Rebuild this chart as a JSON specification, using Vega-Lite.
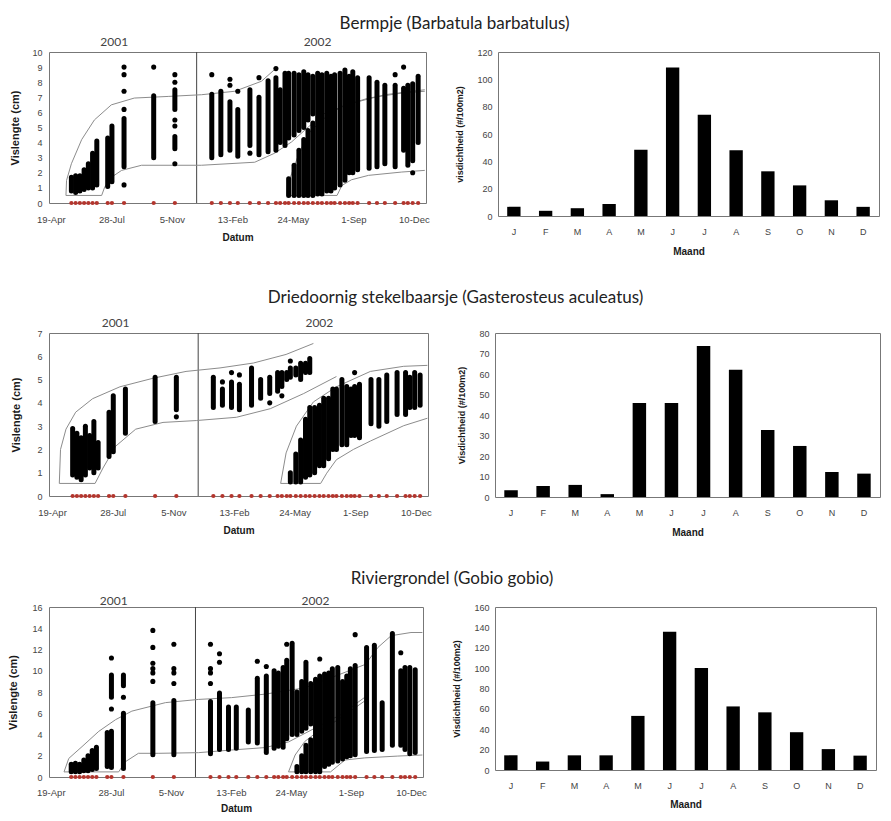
{
  "$schema": "https://vega.github.io/schema/vega-lite/v6.json",
  "background": "white",
  "padding": {"left": 7, "top": 14, "right": 3, "bottom": 0},
  "config": {
    "view": {"stroke": "#777", "strokeWidth": 1},
    "axis": {"labelFont": "Liberation Sans", "titleFont": "Liberation Sans", "labelFontSize": 9, "labelColor": "#444", "titleFontSize": 10, "titleColor": "#1a1a1a", "titleFontWeight": "bold", "grid": false, "domain": false, "ticks": false},
    "title": {"font": "Lato", "fontSize": 17, "fontWeight": "normal", "color": "#222", "anchor": "middle", "dx": 10}
  },
  "datasets": {
    "samples": [
      {"date": "2001-05-23"}, {"date": "2001-05-30"}, {"date": "2001-06-06"}, {"date": "2001-06-13"}, {"date": "2001-06-20"}, {"date": "2001-06-27"}, {"date": "2001-07-04"}, {"date": "2001-07-22"}, {"date": "2001-07-29"}, {"date": "2001-08-18"}, {"date": "2001-10-06"}, {"date": "2001-11-10"},
      {"date": "2002-01-10"}, {"date": "2002-01-25"}, {"date": "2002-02-09"}, {"date": "2002-02-22"}, {"date": "2002-03-14"}, {"date": "2002-03-29"}, {"date": "2002-04-13"}, {"date": "2002-04-26"}, {"date": "2002-05-03"}, {"date": "2002-05-11"}, {"date": "2002-05-17"}, {"date": "2002-05-26"}, {"date": "2002-06-03"}, {"date": "2002-06-11"}, {"date": "2002-06-18"}, {"date": "2002-06-26"}, {"date": "2002-07-04"}, {"date": "2002-07-11"}, {"date": "2002-07-19"}, {"date": "2002-07-26"}, {"date": "2002-08-01"}, {"date": "2002-08-10"}, {"date": "2002-08-18"}, {"date": "2002-08-25"}, {"date": "2002-08-31"}, {"date": "2002-09-08"}, {"date": "2002-09-27"}, {"date": "2002-10-10"}, {"date": "2002-10-23"}, {"date": "2002-11-09"}, {"date": "2002-11-23"}, {"date": "2002-11-30"}, {"date": "2002-12-08"}, {"date": "2002-12-17"}
    ],
    "divider": [{"date": "2001-12-16"}],
    "cols1": [
      {"date": "2001-05-23", "lo": 0.8, "hi": 1.7}, {"date": "2001-05-30", "lo": 0.7, "hi": 1.8}, {"date": "2001-06-06", "lo": 0.8, "hi": 1.8}, {"date": "2001-06-13", "lo": 0.9, "hi": 2.2}, {"date": "2001-06-20", "lo": 1.0, "hi": 2.6}, {"date": "2001-06-27", "lo": 1.0, "hi": 3.3}, {"date": "2001-07-04", "lo": 1.2, "hi": 4.1},
      {"date": "2001-07-22", "lo": 1.1, "hi": 4.3}, {"date": "2001-07-29", "lo": 1.4, "hi": 5.1}, {"date": "2001-08-18", "lo": 2.4, "hi": 5.6}, {"date": "2001-10-06", "lo": 3.0, "hi": 7.1},
      {"date": "2001-11-10", "lo": 3.6, "hi": 4.4}, {"date": "2001-11-10", "lo": 6.2, "hi": 7.5},
      {"date": "2002-01-10", "lo": 3.0, "hi": 7.2}, {"date": "2002-01-25", "lo": 3.2, "hi": 7.4}, {"date": "2002-02-09", "lo": 3.5, "hi": 6.7}, {"date": "2002-02-22", "lo": 3.1, "hi": 6.2}, {"date": "2002-03-14", "lo": 3.8, "hi": 7.5}, {"date": "2002-03-29", "lo": 3.2, "hi": 7.0}, {"date": "2002-04-13", "lo": 3.4, "hi": 8.1}, {"date": "2002-04-26", "lo": 3.5, "hi": 8.3}, {"date": "2002-05-03", "lo": 4.0, "hi": 7.5}, {"date": "2002-05-11", "lo": 3.8, "hi": 8.6},
      {"date": "2002-05-17", "lo": 4.3, "hi": 8.6}, {"date": "2002-05-17", "lo": 0.5, "hi": 1.6},
      {"date": "2002-05-26", "lo": 4.5, "hi": 8.6}, {"date": "2002-05-26", "lo": 0.5, "hi": 2.5},
      {"date": "2002-06-03", "lo": 4.8, "hi": 8.5}, {"date": "2002-06-03", "lo": 0.5, "hi": 3.5},
      {"date": "2002-06-11", "lo": 5.0, "hi": 8.7}, {"date": "2002-06-11", "lo": 0.5, "hi": 4.2},
      {"date": "2002-06-18", "lo": 5.5, "hi": 8.5}, {"date": "2002-06-18", "lo": 0.5, "hi": 4.8},
      {"date": "2002-06-26", "lo": 5.9, "hi": 8.4}, {"date": "2002-06-26", "lo": 0.5, "hi": 5.3},
      {"date": "2002-07-04", "lo": 0.6, "hi": 8.6}, {"date": "2002-07-11", "lo": 0.6, "hi": 8.5}, {"date": "2002-07-19", "lo": 0.8, "hi": 8.6}, {"date": "2002-07-26", "lo": 0.8, "hi": 8.4}, {"date": "2002-08-01", "lo": 1.0, "hi": 8.5}, {"date": "2002-08-10", "lo": 1.2, "hi": 8.6}, {"date": "2002-08-18", "lo": 1.5, "hi": 8.8}, {"date": "2002-08-25", "lo": 2.0, "hi": 8.4}, {"date": "2002-08-31", "lo": 2.0, "hi": 8.7}, {"date": "2002-09-08", "lo": 2.2, "hi": 8.3}, {"date": "2002-09-27", "lo": 2.3, "hi": 8.3}, {"date": "2002-10-10", "lo": 2.4, "hi": 8.0}, {"date": "2002-10-23", "lo": 2.6, "hi": 7.8}, {"date": "2002-11-09", "lo": 2.4, "hi": 7.8}, {"date": "2002-11-23", "lo": 3.5, "hi": 7.6}, {"date": "2002-11-30", "lo": 2.5, "hi": 7.8}, {"date": "2002-12-08", "lo": 2.8, "hi": 7.9}, {"date": "2002-12-17", "lo": 4.0, "hi": 8.4}
    ],
    "pts1": [
      {"date": "2001-08-18", "value": 9.0}, {"date": "2001-08-18", "value": 8.5}, {"date": "2001-08-18", "value": 7.4}, {"date": "2001-08-18", "value": 6.2}, {"date": "2001-08-18", "value": 1.2},
      {"date": "2001-10-06", "value": 9.0},
      {"date": "2001-11-10", "value": 8.5}, {"date": "2001-11-10", "value": 8.0}, {"date": "2001-11-10", "value": 5.5}, {"date": "2001-11-10", "value": 5.1}, {"date": "2001-11-10", "value": 2.6},
      {"date": "2002-01-10", "value": 8.5}, {"date": "2002-02-09", "value": 8.2}, {"date": "2002-02-09", "value": 7.8}, {"date": "2002-02-22", "value": 7.4}, {"date": "2002-03-14", "value": 3.3}, {"date": "2002-03-29", "value": 8.3}, {"date": "2002-04-26", "value": 8.9}, {"date": "2002-11-09", "value": 8.5}, {"date": "2002-11-23", "value": 9.0}, {"date": "2002-12-08", "value": 2.0}
    ],
    "curves1": [
      {"curve": "C1u", "date": "2001-05-14", "value": 0.5}, {"curve": "C1u", "date": "2001-05-15", "value": 1.5}, {"curve": "C1u", "date": "2001-05-23", "value": 2.6}, {"curve": "C1u", "date": "2001-06-09", "value": 4.2}, {"curve": "C1u", "date": "2001-06-30", "value": 5.5}, {"curve": "C1u", "date": "2001-07-28", "value": 6.5}, {"curve": "C1u", "date": "2001-09-04", "value": 6.95}, {"curve": "C1u", "date": "2001-10-31", "value": 7.06}, {"curve": "C1u", "date": "2001-12-24", "value": 7.17}, {"curve": "C1u", "date": "2002-02-17", "value": 7.4}, {"curve": "C1u", "date": "2002-04-02", "value": 8.06}, {"curve": "C1u", "date": "2002-04-27", "value": 8.95},
      {"curve": "C1b", "date": "2001-05-14", "value": 0.5}, {"curve": "C1b", "date": "2001-07-12", "value": 0.5},
      {"curve": "C1l", "date": "2001-07-12", "value": 0.5}, {"curve": "C1l", "date": "2001-07-17", "value": 1.05}, {"curve": "C1l", "date": "2001-07-28", "value": 1.7}, {"curve": "C1l", "date": "2001-08-14", "value": 2.16}, {"curve": "C1l", "date": "2001-09-16", "value": 2.5}, {"curve": "C1l", "date": "2001-12-24", "value": 2.5}, {"curve": "C1l", "date": "2002-03-22", "value": 2.7}, {"curve": "C1l", "date": "2002-04-24", "value": 3.3}, {"curve": "C1l", "date": "2002-05-22", "value": 4.05}, {"curve": "C1l", "date": "2002-06-19", "value": 5.05}, {"curve": "C1l", "date": "2002-07-16", "value": 5.95}, {"curve": "C1l", "date": "2002-08-29", "value": 6.6}, {"curve": "C1l", "date": "2002-10-23", "value": 7.17}, {"curve": "C1l", "date": "2002-12-28", "value": 7.5},
      {"curve": "C2u", "date": "2002-05-14", "value": 0.5}, {"curve": "C2u", "date": "2002-05-15", "value": 1.2}, {"curve": "C2u", "date": "2002-05-22", "value": 1.94}, {"curve": "C2u", "date": "2002-06-03", "value": 3.27}, {"curve": "C2u", "date": "2002-06-19", "value": 4.6}, {"curve": "C2u", "date": "2002-07-11", "value": 5.5}, {"curve": "C2u", "date": "2002-08-13", "value": 6.4}, {"curve": "C2u", "date": "2002-09-26", "value": 6.95}, {"curve": "C2u", "date": "2002-11-20", "value": 7.28}, {"curve": "C2u", "date": "2002-12-28", "value": 7.4},
      {"curve": "C2b", "date": "2002-05-14", "value": 0.5}, {"curve": "C2b", "date": "2002-08-05", "value": 0.5},
      {"curve": "C2l", "date": "2002-08-05", "value": 0.5}, {"curve": "C2l", "date": "2002-08-13", "value": 1.16}, {"curve": "C2l", "date": "2002-08-29", "value": 1.54}, {"curve": "C2l", "date": "2002-09-26", "value": 1.83}, {"curve": "C2l", "date": "2002-11-20", "value": 2.05}, {"curve": "C2l", "date": "2002-12-28", "value": 2.16}
    ],
    "cols2": [
      {"date": "2001-05-23", "lo": 0.9, "hi": 2.9}, {"date": "2001-05-30", "lo": 0.8, "hi": 2.7}, {"date": "2001-06-06", "lo": 0.7, "hi": 2.5}, {"date": "2001-06-13", "lo": 0.9, "hi": 3.0}, {"date": "2001-06-20", "lo": 1.2, "hi": 2.6}, {"date": "2001-06-27", "lo": 1.0, "hi": 3.2}, {"date": "2001-07-04", "lo": 1.2, "hi": 2.3},
      {"date": "2001-07-22", "lo": 1.7, "hi": 3.6}, {"date": "2001-07-29", "lo": 1.9, "hi": 4.3}, {"date": "2001-08-18", "lo": 2.7, "hi": 4.6}, {"date": "2001-10-06", "lo": 3.2, "hi": 5.1}, {"date": "2001-11-10", "lo": 3.7, "hi": 5.1},
      {"date": "2002-01-10", "lo": 3.8, "hi": 5.1}, {"date": "2002-01-25", "lo": 3.9, "hi": 4.6}, {"date": "2002-02-09", "lo": 3.8, "hi": 4.9}, {"date": "2002-02-22", "lo": 3.7, "hi": 4.8}, {"date": "2002-03-14", "lo": 3.9, "hi": 5.5}, {"date": "2002-03-29", "lo": 4.2, "hi": 5.0}, {"date": "2002-04-13", "lo": 4.4, "hi": 5.1}, {"date": "2002-04-26", "lo": 4.5, "hi": 5.3}, {"date": "2002-05-03", "lo": 4.7, "hi": 5.3}, {"date": "2002-05-11", "lo": 5.0, "hi": 5.3},
      {"date": "2002-05-17", "lo": 5.1, "hi": 5.5}, {"date": "2002-05-17", "lo": 0.6, "hi": 1.0},
      {"date": "2002-05-26", "lo": 5.2, "hi": 5.5}, {"date": "2002-05-26", "lo": 0.6, "hi": 1.8},
      {"date": "2002-06-03", "lo": 5.0, "hi": 5.7}, {"date": "2002-06-03", "lo": 0.6, "hi": 2.4},
      {"date": "2002-06-11", "lo": 5.3, "hi": 5.7}, {"date": "2002-06-11", "lo": 0.8, "hi": 3.3},
      {"date": "2002-06-18", "lo": 5.3, "hi": 5.9}, {"date": "2002-06-18", "lo": 0.9, "hi": 3.8},
      {"date": "2002-06-26", "lo": 1.0, "hi": 3.8}, {"date": "2002-07-04", "lo": 1.3, "hi": 3.9}, {"date": "2002-07-11", "lo": 1.3, "hi": 4.2}, {"date": "2002-07-19", "lo": 1.6, "hi": 4.2}, {"date": "2002-07-26", "lo": 2.0, "hi": 4.6}, {"date": "2002-08-01", "lo": 2.0, "hi": 4.6}, {"date": "2002-08-10", "lo": 2.2, "hi": 5.0}, {"date": "2002-08-18", "lo": 2.2, "hi": 4.7}, {"date": "2002-08-25", "lo": 2.6, "hi": 4.6}, {"date": "2002-08-31", "lo": 2.6, "hi": 4.7}, {"date": "2002-09-08", "lo": 2.5, "hi": 4.8}, {"date": "2002-09-27", "lo": 3.1, "hi": 5.0}, {"date": "2002-10-10", "lo": 3.0, "hi": 5.0}, {"date": "2002-10-23", "lo": 3.2, "hi": 5.2}, {"date": "2002-11-09", "lo": 3.5, "hi": 5.3}, {"date": "2002-11-23", "lo": 3.5, "hi": 5.3}, {"date": "2002-11-30", "lo": 3.8, "hi": 5.1}, {"date": "2002-12-08", "lo": 3.8, "hi": 5.3}, {"date": "2002-12-17", "lo": 3.9, "hi": 5.2}
    ],
    "pts2": [
      {"date": "2001-11-10", "value": 3.4}, {"date": "2002-01-25", "value": 4.9}, {"date": "2002-02-09", "value": 5.3}, {"date": "2002-02-22", "value": 5.2}, {"date": "2002-04-13", "value": 4.0}, {"date": "2002-05-03", "value": 4.3}, {"date": "2002-05-17", "value": 5.8}, {"date": "2002-08-31", "value": 5.3}
    ],
    "curves2": [
      {"curve": "C1u", "date": "2001-05-01", "value": 0.54}, {"curve": "C1u", "date": "2001-05-03", "value": 2.0}, {"curve": "C1u", "date": "2001-05-12", "value": 2.87}, {"curve": "C1u", "date": "2001-05-28", "value": 3.6}, {"curve": "C1u", "date": "2001-06-25", "value": 4.18}, {"curve": "C1u", "date": "2001-08-09", "value": 4.69}, {"curve": "C1u", "date": "2001-10-03", "value": 5.06}, {"curve": "C1u", "date": "2001-11-26", "value": 5.35}, {"curve": "C1u", "date": "2002-01-21", "value": 5.5}, {"curve": "C1u", "date": "2002-03-17", "value": 5.71}, {"curve": "C1u", "date": "2002-05-10", "value": 6.08}, {"curve": "C1u", "date": "2002-06-24", "value": 6.55},
      {"curve": "C1b", "date": "2001-05-01", "value": 0.54}, {"curve": "C1b", "date": "2001-06-29", "value": 0.54},
      {"curve": "C1l", "date": "2001-06-29", "value": 0.54}, {"curve": "C1l", "date": "2001-07-12", "value": 1.2}, {"curve": "C1l", "date": "2001-08-02", "value": 2.14}, {"curve": "C1l", "date": "2001-09-04", "value": 2.87}, {"curve": "C1l", "date": "2001-10-19", "value": 3.16}, {"curve": "C1l", "date": "2001-12-13", "value": 3.24}, {"curve": "C1l", "date": "2002-02-17", "value": 3.38}, {"curve": "C1l", "date": "2002-04-14", "value": 3.75}, {"curve": "C1l", "date": "2002-06-08", "value": 4.4}, {"curve": "C1l", "date": "2002-08-01", "value": 5.13},
      {"curve": "C2u", "date": "2002-05-01", "value": 0.54}, {"curve": "C2u", "date": "2002-05-10", "value": 1.85}, {"curve": "C2u", "date": "2002-05-27", "value": 3.0}, {"curve": "C2u", "date": "2002-06-24", "value": 4.04}, {"curve": "C2u", "date": "2002-08-01", "value": 4.69}, {"curve": "C2u", "date": "2002-09-26", "value": 5.35}, {"curve": "C2u", "date": "2002-11-20", "value": 5.57}, {"curve": "C2u", "date": "2002-12-29", "value": 5.61},
      {"curve": "C2b", "date": "2002-05-01", "value": 0.54}, {"curve": "C2b", "date": "2002-07-06", "value": 0.54},
      {"curve": "C2l", "date": "2002-07-06", "value": 0.54}, {"curve": "C2l", "date": "2002-07-16", "value": 0.98}, {"curve": "C2l", "date": "2002-08-01", "value": 1.56}, {"curve": "C2l", "date": "2002-08-29", "value": 2.0}, {"curve": "C2l", "date": "2002-09-26", "value": 2.36}, {"curve": "C2l", "date": "2002-11-20", "value": 3.02}, {"curve": "C2l", "date": "2002-12-29", "value": 3.34}
    ],
    "cols3": [
      {"date": "2001-05-23", "lo": 0.5, "hi": 1.2}, {"date": "2001-05-30", "lo": 0.5, "hi": 1.3}, {"date": "2001-06-06", "lo": 0.5, "hi": 1.2}, {"date": "2001-06-13", "lo": 0.6, "hi": 1.6}, {"date": "2001-06-20", "lo": 0.6, "hi": 2.0}, {"date": "2001-06-27", "lo": 0.7, "hi": 2.5}, {"date": "2001-07-04", "lo": 0.8, "hi": 2.8},
      {"date": "2001-07-22", "lo": 1.0, "hi": 4.2}, {"date": "2001-07-29", "lo": 0.9, "hi": 4.3}, {"date": "2001-07-29", "lo": 7.5, "hi": 9.6},
      {"date": "2001-08-18", "lo": 0.8, "hi": 6.0}, {"date": "2001-08-18", "lo": 8.6, "hi": 9.6},
      {"date": "2001-10-06", "lo": 2.1, "hi": 7.0}, {"date": "2001-11-10", "lo": 2.1, "hi": 7.2},
      {"date": "2002-01-10", "lo": 2.2, "hi": 7.1}, {"date": "2002-01-25", "lo": 2.6, "hi": 7.9}, {"date": "2002-02-09", "lo": 2.6, "hi": 6.6}, {"date": "2002-02-22", "lo": 2.7, "hi": 6.6}, {"date": "2002-03-14", "lo": 3.3, "hi": 6.3}, {"date": "2002-03-29", "lo": 3.2, "hi": 9.3}, {"date": "2002-04-13", "lo": 2.3, "hi": 9.5}, {"date": "2002-04-26", "lo": 2.7, "hi": 10.0}, {"date": "2002-05-03", "lo": 2.9, "hi": 9.8}, {"date": "2002-05-11", "lo": 2.8, "hi": 10.3}, {"date": "2002-05-17", "lo": 3.6, "hi": 11.0}, {"date": "2002-05-26", "lo": 4.0, "hi": 12.6},
      {"date": "2002-06-03", "lo": 4.0, "hi": 8.0}, {"date": "2002-06-03", "lo": 0.5, "hi": 1.0},
      {"date": "2002-06-11", "lo": 4.3, "hi": 9.0}, {"date": "2002-06-11", "lo": 0.5, "hi": 2.0},
      {"date": "2002-06-18", "lo": 4.6, "hi": 10.8}, {"date": "2002-06-18", "lo": 0.5, "hi": 3.0},
      {"date": "2002-06-26", "lo": 5.0, "hi": 8.8}, {"date": "2002-06-26", "lo": 0.5, "hi": 3.5},
      {"date": "2002-07-04", "lo": 0.5, "hi": 9.2}, {"date": "2002-07-11", "lo": 0.5, "hi": 9.5}, {"date": "2002-07-19", "lo": 1.0, "hi": 9.7}, {"date": "2002-07-26", "lo": 1.2, "hi": 9.8}, {"date": "2002-08-01", "lo": 1.4, "hi": 10.2}, {"date": "2002-08-10", "lo": 1.5, "hi": 10.3}, {"date": "2002-08-18", "lo": 1.7, "hi": 9.0}, {"date": "2002-08-25", "lo": 1.9, "hi": 9.5}, {"date": "2002-08-31", "lo": 2.0, "hi": 10.2}, {"date": "2002-09-08", "lo": 2.1, "hi": 10.5}, {"date": "2002-09-27", "lo": 2.4, "hi": 12.2}, {"date": "2002-10-10", "lo": 2.5, "hi": 12.4}, {"date": "2002-10-23", "lo": 2.6, "hi": 7.0}, {"date": "2002-11-09", "lo": 3.0, "hi": 13.5}, {"date": "2002-11-23", "lo": 3.0, "hi": 10.0}, {"date": "2002-11-30", "lo": 2.6, "hi": 10.3}, {"date": "2002-12-08", "lo": 2.2, "hi": 10.3}, {"date": "2002-12-17", "lo": 2.3, "hi": 10.1}
    ],
    "pts3": [
      {"date": "2001-07-29", "value": 11.2}, {"date": "2001-07-29", "value": 6.4}, {"date": "2001-08-18", "value": 7.5},
      {"date": "2001-10-06", "value": 13.8}, {"date": "2001-10-06", "value": 12.2}, {"date": "2001-10-06", "value": 10.7}, {"date": "2001-10-06", "value": 10.2}, {"date": "2001-10-06", "value": 9.8}, {"date": "2001-10-06", "value": 9.0},
      {"date": "2001-11-10", "value": 12.5}, {"date": "2001-11-10", "value": 10.2}, {"date": "2001-11-10", "value": 9.8}, {"date": "2001-11-10", "value": 8.8},
      {"date": "2002-01-10", "value": 12.5}, {"date": "2002-01-10", "value": 10.2}, {"date": "2002-01-10", "value": 9.8}, {"date": "2002-01-10", "value": 8.8},
      {"date": "2002-01-25", "value": 11.6}, {"date": "2002-01-25", "value": 10.8}, {"date": "2002-03-29", "value": 10.9}, {"date": "2002-04-13", "value": 10.4}, {"date": "2002-05-17", "value": 12.5}, {"date": "2002-07-11", "value": 11.1}, {"date": "2002-09-08", "value": 13.4}, {"date": "2002-11-23", "value": 11.7}
    ],
    "curves3": [
      {"curve": "C1u", "date": "2001-05-11", "value": 0.48}, {"curve": "C1u", "date": "2001-05-19", "value": 1.75}, {"curve": "C1u", "date": "2001-06-10", "value": 2.86}, {"curve": "C1u", "date": "2001-07-08", "value": 4.3}, {"curve": "C1u", "date": "2001-08-05", "value": 5.4}, {"curve": "C1u", "date": "2001-09-01", "value": 6.2}, {"curve": "C1u", "date": "2001-10-27", "value": 7.0}, {"curve": "C1u", "date": "2001-12-21", "value": 7.3}, {"curve": "C1u", "date": "2002-02-14", "value": 7.47}, {"curve": "C1u", "date": "2002-04-11", "value": 7.8}, {"curve": "C1u", "date": "2002-06-17", "value": 8.4}, {"curve": "C1u", "date": "2002-08-06", "value": 9.5}, {"curve": "C1u", "date": "2002-09-25", "value": 10.6}, {"curve": "C1u", "date": "2002-10-16", "value": 12.2}, {"curve": "C1u", "date": "2002-11-07", "value": 13.3}, {"curve": "C1u", "date": "2002-12-10", "value": 13.6}, {"curve": "C1u", "date": "2002-12-29", "value": 13.6},
      {"curve": "C1b", "date": "2001-05-11", "value": 0.48}, {"curve": "C1b", "date": "2001-08-10", "value": 0.48},
      {"curve": "C1l", "date": "2001-08-10", "value": 0.48}, {"curve": "C1l", "date": "2001-08-21", "value": 1.43}, {"curve": "C1l", "date": "2001-09-12", "value": 2.23}, {"curve": "C1l", "date": "2001-10-16", "value": 2.23}, {"curve": "C1l", "date": "2001-12-21", "value": 2.29}, {"curve": "C1l", "date": "2002-02-14", "value": 2.54}, {"curve": "C1l", "date": "2002-04-11", "value": 2.77}, {"curve": "C1l", "date": "2002-05-20", "value": 3.3}, {"curve": "C1l", "date": "2002-07-03", "value": 4.6}, {"curve": "C1l", "date": "2002-08-16", "value": 5.9}, {"curve": "C1l", "date": "2002-09-24", "value": 7.5},
      {"curve": "C2u", "date": "2002-05-20", "value": 0.48}, {"curve": "C2u", "date": "2002-05-31", "value": 2.07}, {"curve": "C2u", "date": "2002-06-16", "value": 3.34}, {"curve": "C2u", "date": "2002-07-08", "value": 4.3}, {"curve": "C2u", "date": "2002-07-29", "value": 4.93}, {"curve": "C2u", "date": "2002-08-27", "value": 6.04}, {"curve": "C2u", "date": "2002-09-24", "value": 7.16},
      {"curve": "C2b", "date": "2002-05-20", "value": 0.48}, {"curve": "C2b", "date": "2002-07-29", "value": 0.48},
      {"curve": "C2l", "date": "2002-07-29", "value": 0.48}, {"curve": "C2l", "date": "2002-08-22", "value": 1.6}, {"curve": "C2l", "date": "2002-09-24", "value": 1.8}, {"curve": "C2l", "date": "2002-11-18", "value": 1.97}, {"curve": "C2l", "date": "2002-12-29", "value": 2.07}
    ],
    "bars1": [
      {"month": "Jan", "value": 6.7}, {"month": "Feb", "value": 3.8}, {"month": "Mar", "value": 5.7}, {"month": "Apr", "value": 8.8}, {"month": "May", "value": 48.4}, {"month": "Jun", "value": 108.6}, {"month": "Jul", "value": 74}, {"month": "Aug", "value": 48.2}, {"month": "Sep", "value": 32.7}, {"month": "Oct", "value": 22.4}, {"month": "Nov", "value": 11.5}, {"month": "Dec", "value": 6.7}
    ],
    "bars2": [
      {"month": "Jan", "value": 3.3}, {"month": "Feb", "value": 5.4}, {"month": "Mar", "value": 5.9}, {"month": "Apr", "value": 1.4}, {"month": "May", "value": 45.9}, {"month": "Jun", "value": 45.9}, {"month": "Jul", "value": 73.7}, {"month": "Aug", "value": 62.1}, {"month": "Sep", "value": 32.7}, {"month": "Oct", "value": 24.9}, {"month": "Nov", "value": 12.2}, {"month": "Dec", "value": 11.4}
    ],
    "bars3": [
      {"month": "Jan", "value": 14.4}, {"month": "Feb", "value": 8.3}, {"month": "Mar", "value": 14.4}, {"month": "Apr", "value": 14.4}, {"month": "May", "value": 53.1}, {"month": "Jun", "value": 135.7}, {"month": "Jul", "value": 100.2}, {"month": "Aug", "value": 62.4}, {"month": "Sep", "value": 56.6}, {"month": "Oct", "value": 37.1}, {"month": "Nov", "value": 20.5}, {"month": "Dec", "value": 14.1}
    ]
  },
  "spacing": 31,
  "vconcat": [
    {
      "title": {"text": "Bermpje (Barbatula barbatulus)", "offset": 2},
      "spacing": 25,
      "hconcat": [
        {
          "width": 377, "height": 151,
          "resolve": {"axis": {"x": "independent"}},
          "layer": [
            {"data": {"name": "divider"}, "mark": {"type": "rule", "color": "#444", "strokeWidth": 1},
             "encoding": {"x": {"field": "date", "type": "temporal", "scale": {"type": "utc", "domain": [{"year": 2001, "month": 4, "date": 16, "utc": true}, {"year": 2002, "month": 12, "date": 30, "utc": true}]},
               "axis": {"orient": "top", "values": [{"year": 2001, "month": 8, "date": 1, "utc": true}, {"year": 2002, "month": 7, "date": 3, "utc": true}], "labelExpr": "utcFormat(datum.value, '%Y')", "labelPadding": 4, "labelFont": "Lato", "labelFontSize": 12, "labelColor": "#444", "title": null}}}},
            {"data": {"name": "curves1"}, "mark": {"type": "line", "color": "#8c8c8c", "strokeWidth": 1},
             "encoding": {"x": {"field": "date", "type": "temporal", "axis": null}, "y": {"field": "value", "type": "quantitative", "scale": {"domain": [0, 10], "nice": false}, "axis": {"title": "Vislengte (cm)", "values": [0, 1, 2, 3, 4, 5, 6, 7, 8, 9, 10], "labelPadding": 7, "titleFontSize": 11, "titlePadding": 11}}, "detail": {"field": "curve"}}},
            {"data": {"name": "cols1"}, "mark": {"type": "rule", "color": "black", "strokeWidth": 5, "strokeCap": "round"},
             "encoding": {"x": {"field": "date", "type": "temporal", "axis": {"orient": "bottom", "values": [{"year": 2001, "month": 4, "date": 19, "utc": true}, {"year": 2001, "month": 7, "date": 28, "utc": true}, {"year": 2001, "month": 11, "date": 5, "utc": true}, {"year": 2002, "month": 2, "date": 13, "utc": true}, {"year": 2002, "month": 5, "date": 24, "utc": true}, {"year": 2002, "month": 9, "date": 1, "utc": true}, {"year": 2002, "month": 12, "date": 10, "utc": true}], "labelExpr": "utcFormat(datum.value, '%-d-%b')", "labelPadding": 11, "labelFontSize": 9.5, "labelOverlap": false, "title": "Datum", "titlePadding": 9}},
               "y": {"field": "lo", "type": "quantitative", "axis": {"title": "Vislengte (cm)", "values": [0, 1, 2, 3, 4, 5, 6, 7, 8, 9, 10], "labelPadding": 7, "titleFontSize": 11, "titlePadding": 11}}, "y2": {"field": "hi"}}},
            {"data": {"name": "pts1"}, "mark": {"type": "point", "filled": true, "color": "black", "size": 26, "opacity": 1},
             "encoding": {"x": {"field": "date", "type": "temporal", "axis": null}, "y": {"field": "value", "type": "quantitative", "axis": {"title": "Vislengte (cm)", "values": [0, 1, 2, 3, 4, 5, 6, 7, 8, 9, 10], "labelPadding": 7, "titleFontSize": 11, "titlePadding": 11}}}},
            {"data": {"name": "samples"}, "mark": {"type": "point", "filled": true, "color": "#b3352d", "size": 18, "opacity": 1},
             "encoding": {"x": {"field": "date", "type": "temporal", "axis": null}, "y": {"datum": 0, "type": "quantitative", "axis": {"title": "Vislengte (cm)", "values": [0, 1, 2, 3, 4, 5, 6, 7, 8, 9, 10], "labelPadding": 7, "titleFontSize": 11, "titlePadding": 11}}}}
          ]
        },
        {
          "width": 381, "height": 164,
          "data": {"name": "bars1"},
          "mark": {"type": "bar", "color": "black"},
          "encoding": {
            "x": {"field": "month", "type": "nominal", "sort": null, "scale": {"paddingInner": 0.58, "paddingOuter": 0.29}, "axis": {"labelAngle": 0, "labelExpr": "substring(datum.label, 0, 1)", "labelPadding": 11, "title": "Maand", "titlePadding": 10}},
            "y": {"field": "value", "type": "quantitative", "scale": {"domain": [0, 120], "nice": false}, "axis": {"values": [0, 20, 40, 60, 80, 100, 120], "title": "visdichtheid (#/100m2)", "titleFontSize": 9, "labelPadding": 6, "titlePadding": 12}}
          }
        }
      ]
    },
    {
      "title": {"text": "Driedoornig stekelbaarsje (Gasterosteus aculeatus)", "offset": 9},
      "spacing": 25,
      "hconcat": [
        {
          "width": 379, "height": 163,
          "resolve": {"axis": {"x": "independent"}},
          "layer": [
            {"data": {"name": "divider"}, "mark": {"type": "rule", "color": "#444", "strokeWidth": 1},
             "encoding": {"x": {"field": "date", "type": "temporal", "scale": {"type": "utc", "domain": [{"year": 2001, "month": 4, "date": 14, "utc": true}, {"year": 2002, "month": 12, "date": 30, "utc": true}]},
               "axis": {"orient": "top", "values": [{"year": 2001, "month": 8, "date": 1, "utc": true}, {"year": 2002, "month": 7, "date": 3, "utc": true}], "labelExpr": "utcFormat(datum.value, '%Y')", "labelPadding": 4, "labelFont": "Lato", "labelFontSize": 12, "labelColor": "#444", "title": null}}}},
            {"data": {"name": "curves2"}, "mark": {"type": "line", "color": "#8c8c8c", "strokeWidth": 1},
             "encoding": {"x": {"field": "date", "type": "temporal", "axis": null}, "y": {"field": "value", "type": "quantitative", "scale": {"domain": [0, 7], "nice": false}, "axis": {"title": "Vislengte (cm)", "values": [0, 1, 2, 3, 4, 5, 6, 7], "labelPadding": 7, "titleFontSize": 11, "titlePadding": 15}}, "detail": {"field": "curve"}}},
            {"data": {"name": "cols2"}, "mark": {"type": "rule", "color": "black", "strokeWidth": 5, "strokeCap": "round"},
             "encoding": {"x": {"field": "date", "type": "temporal", "axis": {"orient": "bottom", "values": [{"year": 2001, "month": 4, "date": 19, "utc": true}, {"year": 2001, "month": 7, "date": 28, "utc": true}, {"year": 2001, "month": 11, "date": 5, "utc": true}, {"year": 2002, "month": 2, "date": 13, "utc": true}, {"year": 2002, "month": 5, "date": 24, "utc": true}, {"year": 2002, "month": 9, "date": 1, "utc": true}, {"year": 2002, "month": 12, "date": 10, "utc": true}], "labelExpr": "utcFormat(datum.value, '%-d-%b')", "labelPadding": 11, "labelFontSize": 9.5, "labelOverlap": false, "title": "Datum", "titlePadding": 9}},
               "y": {"field": "lo", "type": "quantitative", "axis": {"title": "Vislengte (cm)", "values": [0, 1, 2, 3, 4, 5, 6, 7], "labelPadding": 7, "titleFontSize": 11, "titlePadding": 15}}, "y2": {"field": "hi"}}},
            {"data": {"name": "pts2"}, "mark": {"type": "point", "filled": true, "color": "black", "size": 26, "opacity": 1},
             "encoding": {"x": {"field": "date", "type": "temporal", "axis": null}, "y": {"field": "value", "type": "quantitative", "axis": {"title": "Vislengte (cm)", "values": [0, 1, 2, 3, 4, 5, 6, 7], "labelPadding": 7, "titleFontSize": 11, "titlePadding": 15}}}},
            {"data": {"name": "samples"}, "mark": {"type": "point", "filled": true, "color": "#b3352d", "size": 18, "opacity": 1},
             "encoding": {"x": {"field": "date", "type": "temporal", "axis": null}, "y": {"datum": 0, "type": "quantitative", "axis": {"title": "Vislengte (cm)", "values": [0, 1, 2, 3, 4, 5, 6, 7], "labelPadding": 7, "titleFontSize": 11, "titlePadding": 15}}}}
          ]
        },
        {
          "width": 385, "height": 164,
          "data": {"name": "bars2"},
          "mark": {"type": "bar", "color": "black"},
          "encoding": {
            "x": {"field": "month", "type": "nominal", "sort": null, "scale": {"paddingInner": 0.58, "paddingOuter": 0.29}, "axis": {"labelAngle": 0, "labelExpr": "substring(datum.label, 0, 1)", "labelPadding": 11, "title": "Maand", "titlePadding": 10}},
            "y": {"field": "value", "type": "quantitative", "scale": {"domain": [0, 80], "nice": false}, "axis": {"values": [0, 10, 20, 30, 40, 50, 60, 70, 80], "title": "Visdichtheid (#/100m2)", "titleFontSize": 9, "labelPadding": 6, "titlePadding": 12}}
          }
        }
      ]
    },
    {
      "title": {"text": "Riviergrondel (Gobio gobio)", "offset": 6},
      "spacing": 25,
      "hconcat": [
        {
          "width": 374, "height": 170,
          "resolve": {"axis": {"x": "independent"}},
          "layer": [
            {"data": {"name": "divider"}, "mark": {"type": "rule", "color": "#444", "strokeWidth": 1},
             "encoding": {"x": {"field": "date", "type": "temporal", "scale": {"type": "utc", "domain": [{"year": 2001, "month": 4, "date": 16, "utc": true}, {"year": 2002, "month": 12, "date": 30, "utc": true}]},
               "axis": {"orient": "top", "values": [{"year": 2001, "month": 8, "date": 1, "utc": true}, {"year": 2002, "month": 7, "date": 3, "utc": true}], "labelExpr": "utcFormat(datum.value, '%Y')", "labelPadding": 0, "labelFont": "Lato", "labelFontSize": 12, "labelColor": "#444", "title": null}}}},
            {"data": {"name": "curves3"}, "mark": {"type": "line", "color": "#8c8c8c", "strokeWidth": 1},
             "encoding": {"x": {"field": "date", "type": "temporal", "axis": null}, "y": {"field": "value", "type": "quantitative", "scale": {"domain": [0, 16], "nice": false}, "axis": {"title": "Vislengte (cm)", "values": [0, 2, 4, 6, 8, 10, 12, 14, 16], "labelPadding": 7, "titleFontSize": 11, "titlePadding": 13}}, "detail": {"field": "curve"}}},
            {"data": {"name": "cols3"}, "mark": {"type": "rule", "color": "black", "strokeWidth": 5, "strokeCap": "round"},
             "encoding": {"x": {"field": "date", "type": "temporal", "axis": {"orient": "bottom", "values": [{"year": 2001, "month": 4, "date": 19, "utc": true}, {"year": 2001, "month": 7, "date": 28, "utc": true}, {"year": 2001, "month": 11, "date": 5, "utc": true}, {"year": 2002, "month": 2, "date": 13, "utc": true}, {"year": 2002, "month": 5, "date": 24, "utc": true}, {"year": 2002, "month": 9, "date": 1, "utc": true}, {"year": 2002, "month": 12, "date": 10, "utc": true}], "labelExpr": "utcFormat(datum.value, '%-d-%b')", "labelPadding": 10, "labelFontSize": 9.5, "labelOverlap": false, "title": "Datum", "titlePadding": 7}},
               "y": {"field": "lo", "type": "quantitative", "axis": {"title": "Vislengte (cm)", "values": [0, 2, 4, 6, 8, 10, 12, 14, 16], "labelPadding": 7, "titleFontSize": 11, "titlePadding": 13}}, "y2": {"field": "hi"}}},
            {"data": {"name": "pts3"}, "mark": {"type": "point", "filled": true, "color": "black", "size": 26, "opacity": 1},
             "encoding": {"x": {"field": "date", "type": "temporal", "axis": null}, "y": {"field": "value", "type": "quantitative", "axis": {"title": "Vislengte (cm)", "values": [0, 2, 4, 6, 8, 10, 12, 14, 16], "labelPadding": 7, "titleFontSize": 11, "titlePadding": 13}}}},
            {"data": {"name": "samples"}, "mark": {"type": "point", "filled": true, "color": "#b3352d", "size": 18, "opacity": 1},
             "encoding": {"x": {"field": "date", "type": "temporal", "axis": null}, "y": {"datum": 0, "type": "quantitative", "axis": {"title": "Vislengte (cm)", "values": [0, 2, 4, 6, 8, 10, 12, 14, 16], "labelPadding": 7, "titleFontSize": 11, "titlePadding": 13}}}}
          ]
        },
        {
          "width": 381, "height": 163,
          "data": {"name": "bars3"},
          "mark": {"type": "bar", "color": "black"},
          "encoding": {
            "x": {"field": "month", "type": "nominal", "sort": null, "scale": {"paddingInner": 0.58, "paddingOuter": 0.29}, "axis": {"labelAngle": 0, "labelExpr": "substring(datum.label, 0, 1)", "labelPadding": 11, "title": "Maand", "titlePadding": 9}},
            "y": {"field": "value", "type": "quantitative", "scale": {"domain": [0, 160], "nice": false}, "axis": {"values": [0, 20, 40, 60, 80, 100, 120, 140, 160], "title": "Visdichtheid (#/100m2)", "titleFontSize": 9, "labelPadding": 6, "titlePadding": 12}}
          }
        }
      ]
    }
  ]
}
